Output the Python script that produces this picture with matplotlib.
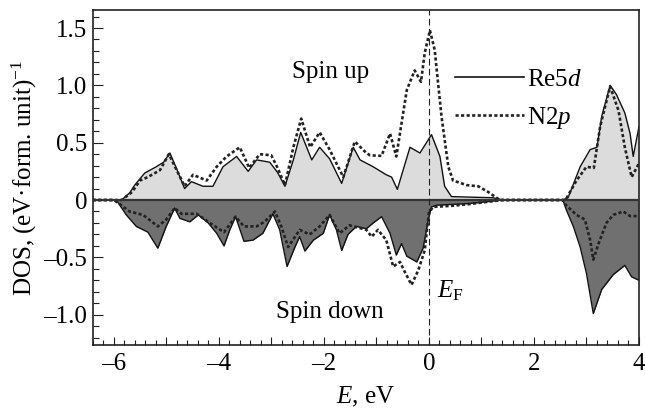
import matplotlib
matplotlib.use("Agg")
import matplotlib.pyplot as plt
from matplotlib.ticker import MultipleLocator, FuncFormatter
from matplotlib.lines import Line2D

plt.rcParams['font.family'] = ['Liberation Serif', 'DejaVu Serif']
plt.rcParams['mathtext.fontset'] = 'custom'
plt.rcParams['mathtext.rm'] = 'Liberation Serif'
plt.rcParams['mathtext.it'] = 'Liberation Serif:italic'
plt.rcParams['mathtext.bf'] = 'Liberation Serif:bold'
plt.rcParams['axes.unicode_minus'] = True

FS = 18

# ---------------- data ----------------
e_re_up = [-6.4, -5.85, -5.7, -5.6, -5.41, -5.19, -5.05, -4.93, -4.8, -4.65, -4.52, -4.30, -4.11,
           -3.92, -3.66, -3.44, -3.28, -3.03, -2.88, -2.74, -2.58, -2.44, -2.23, -2.08, -1.89,
           -1.66, -1.44, -1.31, -1.06, -0.81, -0.71, -0.60, -0.36, -0.17, 0.05, 0.21, 0.30, 0.43,
           0.8, 1.22, 1.4, 2.55, 2.65, 2.88, 3.07, 3.2, 3.29, 3.45, 3.57, 3.73, 3.83, 3.89, 4.0]
dos_re_up = [0, 0, 0.06, 0.13, 0.235, 0.29, 0.33, 0.41, 0.27, 0.10, 0.16, 0.12, 0.12,
             0.29, 0.38, 0.25, 0.35, 0.33, 0.24, 0.12, 0.35, 0.59, 0.35, 0.46, 0.36,
             0.145, 0.46, 0.35, 0.29, 0.22, 0.20, 0.093, 0.46, 0.41, 0.57, 0.38, 0.12, 0.03,
             0.025, 0.02, 0.0, 0.0, 0.02, 0.29, 0.44, 0.46, 0.73, 1.00, 0.92, 0.76, 0.58, 0.38, 0.64]

e_n_up = [-6.4, -5.85, -5.65, -5.50, -5.35, -5.12, -4.95, -4.8, -4.65, -4.49, -4.23, -4.04, -3.85,
          -3.6, -3.42, -3.22, -3.0, -2.88, -2.74, -2.58, -2.43, -2.26, -2.08, -1.89, -1.63, -1.41,
          -1.19, -1.12, -0.90, -0.74, -0.62, -0.42, -0.27, -0.15, -0.08, 0.02, 0.11, 0.24, 0.37,
          0.46, 0.72, 0.94, 1.13, 1.35, 2.6, 2.81, 3.0, 3.14, 3.26, 3.45, 3.61, 3.73, 3.86, 4.0]
dos_n_up = [0, 0, 0.07, 0.17, 0.20, 0.26, 0.40, 0.26, 0.12, 0.22, 0.17, 0.29, 0.38,
            0.46, 0.28, 0.40, 0.39, 0.28, 0.13, 0.46, 0.71, 0.46, 0.59, 0.44, 0.20, 0.51,
            0.41, 0.39, 0.385, 0.58, 0.38, 0.96, 1.13, 1.03, 1.28, 1.48, 1.31, 0.73, 0.29,
            0.17, 0.13, 0.12, 0.07, 0.0, 0.0, 0.17, 0.29, 0.28, 0.64, 0.99, 0.78, 0.46, 0.20, 0.32]

e_re_dn = [-6.4, -5.95, -5.76, -5.57, -5.35, -5.16, -5.0, -4.84, -4.74, -4.55, -4.39, -4.2, -4.04,
           -3.9, -3.79, -3.68, -3.52, -3.35, -3.16, -2.97, -2.84, -2.70, -2.55, -2.46, -2.36,
           -2.20, -2.01, -1.89, -1.76, -1.66, -1.54, -1.38, -1.19, -1.06, -0.90, -0.74, -0.62,
           -0.52, -0.42, -0.23, -0.11, -0.01, 0.05, 0.15, 0.78, 1.4, 2.55, 2.62, 2.75, 2.88,
           3.0, 3.13, 3.29, 3.51, 3.73, 3.86, 4.0]
dos_re_dn = [0, 0, -0.13, -0.23, -0.28, -0.42, -0.23, -0.07, -0.16, -0.19, -0.13, -0.20, -0.29,
             -0.40, -0.26, -0.145, -0.36, -0.35, -0.29, -0.12, -0.26, -0.58, -0.41, -0.32, -0.445,
             -0.35, -0.29, -0.13, -0.26, -0.44, -0.30, -0.23, -0.25, -0.20, -0.145, -0.29, -0.48,
             -0.38, -0.49, -0.54, -0.42, -0.17, -0.06, -0.045, -0.03, 0.0, 0.0, -0.09, -0.23, -0.41,
             -0.64, -0.99, -0.78, -0.65, -0.57, -0.67, -0.70]

e_n_dn = [-6.4, -6.0, -5.9, -5.70, -5.44, -5.16, -5.0, -4.84, -4.71, -4.42, -4.17, -3.9, -3.68,
          -3.52, -3.28, -3.13, -2.93, -2.81, -2.68, -2.46, -2.27, -2.08, -1.89, -1.70, -1.51,
          -1.19, -1.09, -0.97, -0.81, -0.68, -0.55, -0.46, -0.33, -0.2, -0.08, 0.0, 0.08, 0.45,
          0.78, 1.4, 2.55, 2.6, 2.81, 2.97, 3.07, 3.13, 3.23, 3.38, 3.51, 3.70, 3.83, 4.0]
dos_n_dn = [0, 0, -0.03, -0.10, -0.13, -0.23, -0.17, -0.07, -0.12, -0.12, -0.20, -0.28, -0.145,
            -0.23, -0.23, -0.19, -0.10, -0.23, -0.41, -0.26, -0.30, -0.23, -0.13, -0.29, -0.22,
            -0.26, -0.32, -0.26, -0.35, -0.58, -0.54, -0.625, -0.74, -0.61, -0.44, -0.11, -0.06,
            -0.05, -0.035, 0.0, 0.0, -0.04, -0.13, -0.17, -0.35, -0.52, -0.38, -0.20, -0.13,
            -0.10, -0.14, -0.14]

series_labels = ["Re5$d$", "N2$p$"]
x_ticks_labeled = [-6, -4, -2, 0, 2, 4]
y_ticks_labeled = [1.5, 1.0, 0.5, 0, -0.5, -1.0]

# ---------------- figure ----------------
fig = plt.figure(figsize=(6.45, 4.15), dpi=100)
ax = fig.add_axes([0.1437, 0.1687, 0.9907 - 0.1437, 0.9759 - 0.1687])

ax.fill_between(e_re_up, 0, dos_re_up, color='#dcdcdc', lw=0)
ax.fill_between(e_re_dn, 0, dos_re_dn, color='#707070', lw=0)

dot_style = (0, (1.2, 0.9))
ax.plot(e_re_up, dos_re_up, color='#111111', lw=1.0)
ax.plot(e_re_dn, dos_re_dn, color='#111111', lw=1.0)
ax.plot(e_n_up, dos_n_up, color='#222222', lw=1.9, ls=dot_style)
ax.plot(e_n_dn, dos_n_dn, color='#222222', lw=1.9, ls=dot_style)

ax.axhline(0, color='#333333', lw=1.6, zorder=3)
ax.axvline(0, color='#222222', lw=0.8, ls=(0, (6, 3)), zorder=4)

ax.set_xlim(-6.4, 4.0)
ax.set_ylim(-1.264, 1.657)

ax.xaxis.set_major_locator(MultipleLocator(1))
ax.xaxis.set_minor_locator(MultipleLocator(0.2))
ax.yaxis.set_major_locator(MultipleLocator(0.5))
ax.yaxis.set_minor_locator(MultipleLocator(0.1))


def xfmt(v, pos):
    iv = int(round(v))
    if iv in x_ticks_labeled and abs(v - iv) < 1e-6:
        return ("\u2013%d" % (-iv)) if iv < 0 else "%d" % iv
    return ""


def yfmt(v, pos):
    for t in y_ticks_labeled:
        if abs(v - t) < 1e-6:
            if t == 0:
                return "0"
            return ("\u2013%.1f" % (-t)) if t < 0 else "%.1f" % t
    return ""


ax.xaxis.set_major_formatter(FuncFormatter(xfmt))
ax.yaxis.set_major_formatter(FuncFormatter(yfmt))

ax.tick_params(which='both', direction='in', top=False, right=False, labelsize=FS, width=0.8,
               color='#222222')
ax.tick_params(axis='y', which='major', length=7.5, pad=4)
ax.tick_params(axis='y', which='minor', length=4)
ax.tick_params(axis='x', which='major', length=6, pad=6)
ax.tick_params(axis='x', which='minor', length=3.5)
for s in ax.spines.values():
    s.set_linewidth(1.2)
    s.set_color('#222222')

ax.set_xlabel("$E$, eV", fontsize=FS, labelpad=7)
ax.set_ylabel("DOS, (eV\u00b7form. unit)$^{-1}$", fontsize=FS, labelpad=3)

ax.text(-1.87, 1.116, "Spin up", fontsize=FS, ha='center', va='center')
ax.text(-1.89, -0.977, "Spin down", fontsize=FS, ha='center', va='center')
ax.text(0.15, -0.79, "$E_{\\mathrm{F}}$", fontsize=FS, ha='left', va='center')

handles = [Line2D([], [], color='#111111', lw=1.2),
           Line2D([], [], color='#222222', lw=1.9, ls=dot_style)]
ax.legend(handles, series_labels, loc='upper left', bbox_to_anchor=(0.664, 0.825),
          frameon=False, fontsize=FS, handlelength=2.75, handletextpad=0.1,
          labelspacing=0.55, borderpad=0, borderaxespad=0)

fig.savefig("out.png", dpi=100)
